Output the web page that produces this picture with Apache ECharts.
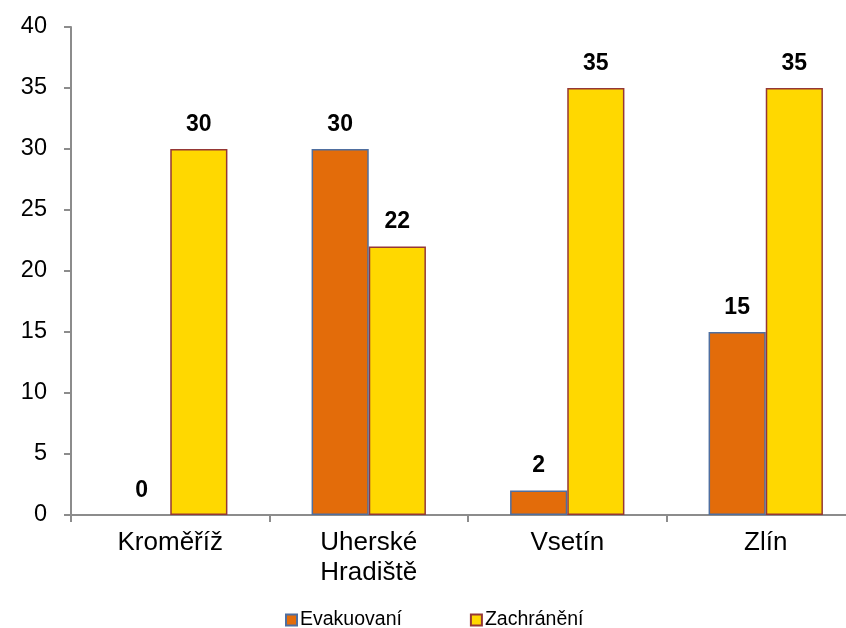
<!DOCTYPE html>
<html><head><meta charset="utf-8">
<script src="https://cdn.jsdelivr.net/npm/echarts@6/dist/echarts.min.js"></script>
<style>html,body{margin:0;padding:0;background:#fff}#c{width:846px;height:628px}</style>
</head><body><div id="c"></div>
<script>
var categories = ['Kroměříž', 'Uherské\nHradiště', 'Vsetín', 'Zlín'];
var evakuovani = [0, 30, 2, 15];
var zachraneni = [30, 22, 35, 35];
var yTicks = [0, 5, 10, 15, 20, 25, 30, 35, 40];

function toData(arr) {
  return arr.map(function (v) {
    return v === 0 ? {value: v, itemStyle: {borderWidth: 0}} : v;
  });
}

var chart = echarts.init(document.getElementById('c'));
var lbl = {show: true, position: 'top', distance: 13, color: '#000', fontWeight: 'bold', fontSize: 23, fontFamily: 'Liberation Sans'};
chart.setOption({
  animation: false,
  grid: {left: 71, width: 794, top: 27, height: 488, outerBoundsMode: 'none', containLabel: false},
  legend: {
    top: 610, left: 285, padding: 0, itemGap: 68, itemWidth: 11, itemHeight: 11,
    icon: 'rect',
    textStyle: {fontSize: 19.5, fontFamily: 'Liberation Sans', color: '#000', padding: [0,0,0,-2]},
    data: ['Evakuovaní', 'Zachránění']
  },
  xAxis: {
    type: 'category', data: categories,
    axisLine: {lineStyle: {color: '#8c8c8c', width: 2}},
    axisTick: {show: true, length: 7, lineStyle: {color: '#8c8c8c', width: 2}},
    axisLabel: {fontSize: 26, fontFamily: 'Liberation Sans', color: '#000', margin: 13, lineHeight: 30}
  },
  yAxis: {
    type: 'value', min: yTicks[0], max: yTicks[yTicks.length-1], interval: 5,
    splitLine: {show: false},
    axisLine: {show: true, lineStyle: {color: '#8c8c8c', width: 2}},
    axisTick: {show: true, length: 7, lineStyle: {color: '#8c8c8c', width: 2}},
    axisLabel: {fontSize: 23.5, fontFamily: 'Liberation Sans', color: '#000', margin: 24}
  },
  series: [
    {name: 'Evakuovaní', type: 'bar', data: toData(evakuovani), barGap: '0%', barCategoryGap: '42.4%',
     itemStyle: {color: '#E36C0A', borderColor: '#4F6FA0', borderWidth: 1.5}, label: lbl},
    {name: 'Zachránění', type: 'bar', data: toData(zachraneni),
     itemStyle: {color: '#FFD800', borderColor: '#953735', borderWidth: 1.5}, label: lbl}
  ]
});
</script></body></html>
